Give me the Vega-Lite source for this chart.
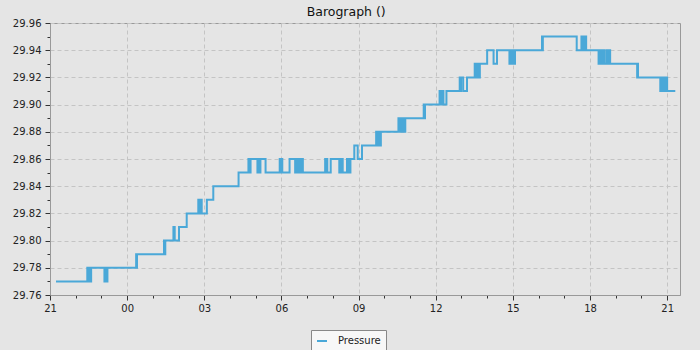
{
  "$schema": "https://vega.github.io/schema/vega-lite/v6.json",
  "width": 630,
  "height": 272,
  "autosize": "none",
  "padding": {"left": 50, "top": 23, "right": 20, "bottom": 55},
  "background": "#e5e5e5",
  "title": {"text": "Barograph ()", "font": "DejaVu Sans", "fontSize": 12.5, "fontWeight": "normal", "color": "#111111", "offset": 0, "anchor": "middle", "frame": "bounds"},
  "config": {
    "view": {"fill": "#e5e5e5", "stroke": "#999999", "strokeWidth": 1},
    "axis": {"domainColor": "#999999", "tickColor": "#333333", "labelColor": "#222222", "labelFont": "DejaVu Sans", "labelFontSize": 10, "gridColor": "#c4c4c4", "gridDash": [4, 3], "gridWidth": 1},
    "legend": {"labelFont": "DejaVu Sans", "labelFontSize": 10, "labelColor": "#222222"}
  },
  "data": {"values": [
    {"t": "2023-01-01T21:14:00Z", "p": 29.77},
    {"t": "2023-01-01T22:27:00Z", "p": 29.78},
    {"t": "2023-01-01T22:29:00Z", "p": 29.77},
    {"t": "2023-01-01T22:31:00Z", "p": 29.78},
    {"t": "2023-01-01T22:33:00Z", "p": 29.77},
    {"t": "2023-01-01T22:36:00Z", "p": 29.78},
    {"t": "2023-01-01T23:07:00Z", "p": 29.77},
    {"t": "2023-01-01T23:09:00Z", "p": 29.78},
    {"t": "2023-01-01T23:10:00Z", "p": 29.77},
    {"t": "2023-01-01T23:12:00Z", "p": 29.78},
    {"t": "2023-01-01T23:13:00Z", "p": 29.77},
    {"t": "2023-01-01T23:14:00Z", "p": 29.78},
    {"t": "2023-01-02T00:21:00Z", "p": 29.79},
    {"t": "2023-01-02T00:22:00Z", "p": 29.78},
    {"t": "2023-01-02T00:23:00Z", "p": 29.79},
    {"t": "2023-01-02T01:26:00Z", "p": 29.80},
    {"t": "2023-01-02T01:27:00Z", "p": 29.79},
    {"t": "2023-01-02T01:29:00Z", "p": 29.80},
    {"t": "2023-01-02T01:48:00Z", "p": 29.81},
    {"t": "2023-01-02T01:51:00Z", "p": 29.80},
    {"t": "2023-01-02T02:01:00Z", "p": 29.81},
    {"t": "2023-01-02T02:19:00Z", "p": 29.82},
    {"t": "2023-01-02T02:46:00Z", "p": 29.83},
    {"t": "2023-01-02T02:48:00Z", "p": 29.82},
    {"t": "2023-01-02T02:49:00Z", "p": 29.83},
    {"t": "2023-01-02T02:51:00Z", "p": 29.82},
    {"t": "2023-01-02T02:52:00Z", "p": 29.83},
    {"t": "2023-01-02T02:54:00Z", "p": 29.82},
    {"t": "2023-01-02T03:06:00Z", "p": 29.83},
    {"t": "2023-01-02T03:21:00Z", "p": 29.84},
    {"t": "2023-01-02T04:20:00Z", "p": 29.85},
    {"t": "2023-01-02T04:43:00Z", "p": 29.86},
    {"t": "2023-01-02T04:45:00Z", "p": 29.85},
    {"t": "2023-01-02T04:48:00Z", "p": 29.86},
    {"t": "2023-01-02T05:04:00Z", "p": 29.85},
    {"t": "2023-01-02T05:08:00Z", "p": 29.86},
    {"t": "2023-01-02T05:09:00Z", "p": 29.85},
    {"t": "2023-01-02T05:11:00Z", "p": 29.86},
    {"t": "2023-01-02T05:23:00Z", "p": 29.85},
    {"t": "2023-01-02T05:56:00Z", "p": 29.86},
    {"t": "2023-01-02T05:58:00Z", "p": 29.85},
    {"t": "2023-01-02T05:59:00Z", "p": 29.86},
    {"t": "2023-01-02T06:02:00Z", "p": 29.85},
    {"t": "2023-01-02T06:19:00Z", "p": 29.86},
    {"t": "2023-01-02T06:32:00Z", "p": 29.85},
    {"t": "2023-01-02T06:34:00Z", "p": 29.86},
    {"t": "2023-01-02T06:36:00Z", "p": 29.85},
    {"t": "2023-01-02T06:38:00Z", "p": 29.86},
    {"t": "2023-01-02T06:41:00Z", "p": 29.85},
    {"t": "2023-01-02T06:43:00Z", "p": 29.86},
    {"t": "2023-01-02T06:46:00Z", "p": 29.85},
    {"t": "2023-01-02T06:48:00Z", "p": 29.86},
    {"t": "2023-01-02T06:50:00Z", "p": 29.85},
    {"t": "2023-01-02T07:42:00Z", "p": 29.86},
    {"t": "2023-01-02T07:43:00Z", "p": 29.85},
    {"t": "2023-01-02T07:44:00Z", "p": 29.86},
    {"t": "2023-01-02T07:47:00Z", "p": 29.85},
    {"t": "2023-01-02T07:55:00Z", "p": 29.86},
    {"t": "2023-01-02T08:15:00Z", "p": 29.85},
    {"t": "2023-01-02T08:17:00Z", "p": 29.86},
    {"t": "2023-01-02T08:19:00Z", "p": 29.85},
    {"t": "2023-01-02T08:21:00Z", "p": 29.86},
    {"t": "2023-01-02T08:23:00Z", "p": 29.85},
    {"t": "2023-01-02T08:33:00Z", "p": 29.86},
    {"t": "2023-01-02T08:35:00Z", "p": 29.85},
    {"t": "2023-01-02T08:37:00Z", "p": 29.86},
    {"t": "2023-01-02T08:39:00Z", "p": 29.85},
    {"t": "2023-01-02T08:41:00Z", "p": 29.86},
    {"t": "2023-01-02T08:50:00Z", "p": 29.87},
    {"t": "2023-01-02T08:58:00Z", "p": 29.86},
    {"t": "2023-01-02T09:08:00Z", "p": 29.87},
    {"t": "2023-01-02T09:41:00Z", "p": 29.88},
    {"t": "2023-01-02T09:43:00Z", "p": 29.87},
    {"t": "2023-01-02T09:45:00Z", "p": 29.88},
    {"t": "2023-01-02T09:47:00Z", "p": 29.87},
    {"t": "2023-01-02T09:49:00Z", "p": 29.88},
    {"t": "2023-01-02T09:51:00Z", "p": 29.87},
    {"t": "2023-01-02T09:52:00Z", "p": 29.88},
    {"t": "2023-01-02T10:33:00Z", "p": 29.89},
    {"t": "2023-01-02T10:35:00Z", "p": 29.88},
    {"t": "2023-01-02T10:37:00Z", "p": 29.89},
    {"t": "2023-01-02T10:39:00Z", "p": 29.88},
    {"t": "2023-01-02T10:41:00Z", "p": 29.89},
    {"t": "2023-01-02T10:43:00Z", "p": 29.88},
    {"t": "2023-01-02T10:45:00Z", "p": 29.89},
    {"t": "2023-01-02T10:47:00Z", "p": 29.88},
    {"t": "2023-01-02T10:49:00Z", "p": 29.89},
    {"t": "2023-01-02T11:32:00Z", "p": 29.90},
    {"t": "2023-01-02T11:33:00Z", "p": 29.89},
    {"t": "2023-01-02T11:35:00Z", "p": 29.90},
    {"t": "2023-01-02T12:09:00Z", "p": 29.91},
    {"t": "2023-01-02T12:11:00Z", "p": 29.90},
    {"t": "2023-01-02T12:13:00Z", "p": 29.91},
    {"t": "2023-01-02T12:15:00Z", "p": 29.90},
    {"t": "2023-01-02T12:17:00Z", "p": 29.91},
    {"t": "2023-01-02T12:18:00Z", "p": 29.90},
    {"t": "2023-01-02T12:25:00Z", "p": 29.91},
    {"t": "2023-01-02T12:56:00Z", "p": 29.92},
    {"t": "2023-01-02T12:58:00Z", "p": 29.91},
    {"t": "2023-01-02T12:59:00Z", "p": 29.92},
    {"t": "2023-01-02T13:04:00Z", "p": 29.91},
    {"t": "2023-01-02T13:13:00Z", "p": 29.92},
    {"t": "2023-01-02T13:31:00Z", "p": 29.93},
    {"t": "2023-01-02T13:33:00Z", "p": 29.92},
    {"t": "2023-01-02T13:35:00Z", "p": 29.93},
    {"t": "2023-01-02T13:37:00Z", "p": 29.92},
    {"t": "2023-01-02T13:39:00Z", "p": 29.93},
    {"t": "2023-01-02T13:41:00Z", "p": 29.92},
    {"t": "2023-01-02T13:43:00Z", "p": 29.93},
    {"t": "2023-01-02T14:00:00Z", "p": 29.94},
    {"t": "2023-01-02T14:15:00Z", "p": 29.93},
    {"t": "2023-01-02T14:23:00Z", "p": 29.94},
    {"t": "2023-01-02T14:52:00Z", "p": 29.93},
    {"t": "2023-01-02T14:54:00Z", "p": 29.94},
    {"t": "2023-01-02T14:56:00Z", "p": 29.93},
    {"t": "2023-01-02T14:58:00Z", "p": 29.94},
    {"t": "2023-01-02T15:00:00Z", "p": 29.93},
    {"t": "2023-01-02T15:02:00Z", "p": 29.94},
    {"t": "2023-01-02T15:04:00Z", "p": 29.93},
    {"t": "2023-01-02T15:05:00Z", "p": 29.94},
    {"t": "2023-01-02T16:08:00Z", "p": 29.95},
    {"t": "2023-01-02T16:09:00Z", "p": 29.94},
    {"t": "2023-01-02T16:10:00Z", "p": 29.95},
    {"t": "2023-01-02T17:29:00Z", "p": 29.94},
    {"t": "2023-01-02T17:40:00Z", "p": 29.95},
    {"t": "2023-01-02T17:42:00Z", "p": 29.94},
    {"t": "2023-01-02T17:44:00Z", "p": 29.95},
    {"t": "2023-01-02T17:46:00Z", "p": 29.94},
    {"t": "2023-01-02T17:48:00Z", "p": 29.95},
    {"t": "2023-01-02T17:51:00Z", "p": 29.94},
    {"t": "2023-01-02T18:20:00Z", "p": 29.93},
    {"t": "2023-01-02T18:22:00Z", "p": 29.94},
    {"t": "2023-01-02T18:24:00Z", "p": 29.93},
    {"t": "2023-01-02T18:26:00Z", "p": 29.94},
    {"t": "2023-01-02T18:28:00Z", "p": 29.93},
    {"t": "2023-01-02T18:31:00Z", "p": 29.94},
    {"t": "2023-01-02T18:33:00Z", "p": 29.93},
    {"t": "2023-01-02T18:38:00Z", "p": 29.94},
    {"t": "2023-01-02T18:40:00Z", "p": 29.93},
    {"t": "2023-01-02T18:42:00Z", "p": 29.94},
    {"t": "2023-01-02T18:44:00Z", "p": 29.93},
    {"t": "2023-01-02T18:46:00Z", "p": 29.94},
    {"t": "2023-01-02T18:47:00Z", "p": 29.93},
    {"t": "2023-01-02T19:50:00Z", "p": 29.92},
    {"t": "2023-01-02T19:51:00Z", "p": 29.93},
    {"t": "2023-01-02T19:52:00Z", "p": 29.92},
    {"t": "2023-01-02T20:44:00Z", "p": 29.91},
    {"t": "2023-01-02T20:46:00Z", "p": 29.92},
    {"t": "2023-01-02T20:48:00Z", "p": 29.91},
    {"t": "2023-01-02T20:50:00Z", "p": 29.92},
    {"t": "2023-01-02T20:52:00Z", "p": 29.91},
    {"t": "2023-01-02T20:54:00Z", "p": 29.92},
    {"t": "2023-01-02T20:56:00Z", "p": 29.91},
    {"t": "2023-01-02T20:58:00Z", "p": 29.92},
    {"t": "2023-01-02T21:00:00Z", "p": 29.91},
    {"t": "2023-01-02T21:19:00Z", "p": 29.91}
  ]},
  "layer": [
    {
      "mark": {"type": "line", "opacity": 0},
      "encoding": {
        "x": {
          "field": "t", "type": "temporal",
          "scale": {"type": "utc", "domain": [1672606800000, 1672695000000], "nice": false},
          "axis": {"orient": "bottom", "title": null, "values": [1672610400000, 1672614000000, 1672621200000, 1672624800000, 1672632000000, 1672635600000, 1672642800000, 1672646400000, 1672653600000, 1672657200000, 1672664400000, 1672668000000, 1672675200000, 1672678800000, 1672686000000, 1672689600000], "labels": false, "domain": false, "grid": false, "tickSize": 3}
        },
        "y": {
          "field": "p", "type": "quantitative",
          "scale": {"domain": [29.76, 29.96], "nice": false, "zero": false},
          "axis": {"orient": "left", "title": null, "values": [29.77, 29.79, 29.81, 29.83, 29.85, 29.87, 29.89, 29.91, 29.93, 29.95], "labels": false, "domain": false, "grid": false, "tickSize": 3}
        }
      }
    },
    {
      "mark": {"type": "line", "interpolate": "step-after", "strokeWidth": 2, "clip": true},
      "encoding": {
        "x": {
          "field": "t", "type": "temporal",
          "axis": {"orient": "bottom", "title": null, "grid": true, "values": [1672606800000, 1672617600000, 1672628400000, 1672639200000, 1672650000000, 1672660800000, 1672671600000, 1672682400000, 1672693200000], "format": "%H", "tickSize": 5, "labelPadding": 3, "labelFlush": false, "labelOverlap": false}
        },
        "y": {
          "field": "p", "type": "quantitative",
          "axis": {"orient": "left", "title": null, "grid": true, "values": [29.76, 29.78, 29.80, 29.82, 29.84, 29.86, 29.88, 29.90, 29.92, 29.94, 29.96], "format": ".2f", "tickSize": 5, "labelPadding": 4, "labelFlush": false, "labelOverlap": false}
        },
        "color": {
          "datum": "Pressure",
          "scale": {"range": ["#4aa8d8"]},
          "legend": {"orient": "none", "legendX": 261, "legendY": 307, "direction": "horizontal", "title": null, "symbolType": "stroke", "symbolSize": 100, "symbolStrokeWidth": 2, "strokeColor": "#888888", "fillColor": "#f7f7f7", "padding": 5, "labelOffset": 10}
        }
      }
    }
  ],
  "resolve": {"axis": {"x": "independent", "y": "independent"}}
}
